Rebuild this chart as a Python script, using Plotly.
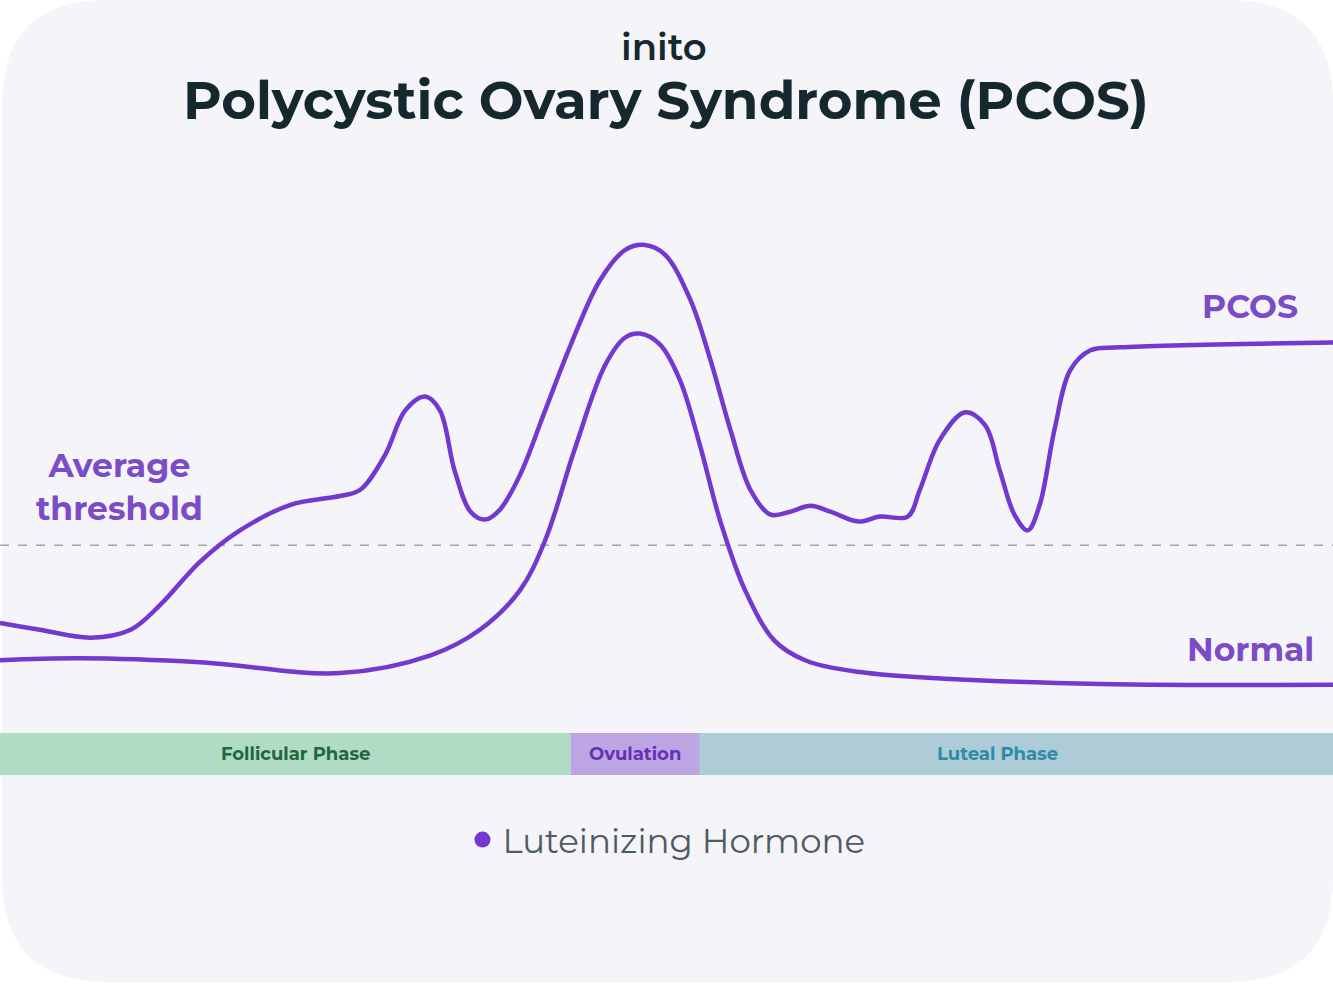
import plotly.graph_objects as go

# ---------------- data ----------------
# x: position in cycle (0-100), y: LH level (arbitrary units, 0-100 scale)
pcos_x = [0, 3.0, 6.8, 9.8, 12.0, 15.0, 18.0, 21.8, 25.5, 27.0, 28.9, 30.4, 31.9, 33.0,
          34.1, 35.3, 36.4, 37.5, 39.0, 40.9, 42.8, 45.0, 46.9, 48.4, 49.9, 51.8, 53.3,
          54.8, 56.3, 57.8, 59.3, 60.8, 62.3, 64.4, 66.0, 68.1, 69.0, 70.5, 72.4, 73.9,
          75.0, 76.1, 77.1, 78.0, 79.1, 80.3, 81.8, 84.0, 100]
pcos_y = [36.7, 36.0, 35.2, 36.0, 38.5, 42.9, 46.1, 48.7, 49.6, 50.2, 53.8, 58.3, 59.7, 58.3,
          52.2, 48.0, 47.2, 48.2, 51.7, 58.3, 64.9, 71.5, 74.6, 75.1, 74.1, 69.5, 63.4,
          56.3, 50.2, 47.7, 48.0, 48.6, 48.0, 47.0, 47.5, 47.5, 50.2, 55.3, 58.1, 56.8,
          52.2, 47.7, 46.1, 48.7, 56.3, 62.4, 64.4, 64.7, 65.2]

normal_x = [0, 6.0, 15.0, 25.5, 32.3, 36.0, 39.0, 40.9, 43.1, 45.4, 46.9, 48.0, 49.5,
            51.0, 52.5, 54.0, 55.9, 58.1, 60.4, 64.5, 71.3, 82.5, 100]
normal_y = [32.9, 33.1, 32.7, 31.6, 33.4, 36.0, 40.0, 45.1, 54.3, 62.9, 65.7, 66.1, 65.0,
            61.4, 54.8, 47.2, 40.0, 34.9, 32.9, 31.7, 31.0, 30.5, 30.4]

threshold = 44.6

phase_names = ["Follicular Phase", "Ovulation", "Luteal Phase"]
phase_start = [0, 42.8, 52.5]
phase_end = [42.8, 52.5, 100]
phase_label_x = [22.2, 47.6, 74.8]
phase_fill = ["#b0dbc5", "#bda5e4", "#aecbd8"]
phase_text = ["#22663f", "#6431b5", "#2e8aa6"]

LINE = "#7338cf"
LABEL = "#7b4cc6"
DARK = "#15282d"
FONT = "Montserrat, DejaVu Sans"

W, H = 1333, 984

fig = go.Figure()

fig.add_trace(go.Scatter(x=pcos_x, y=pcos_y, mode="lines", name="PCOS",
                         line=dict(color=LINE, width=4.5, shape="spline", smoothing=1.0),
                         showlegend=False, hoverinfo="skip"))
fig.add_trace(go.Scatter(x=normal_x, y=normal_y, mode="lines", name="Normal",
                         line=dict(color=LINE, width=4.5, shape="spline", smoothing=1.0),
                         showlegend=False, hoverinfo="skip"))
fig.add_trace(go.Scatter(x=[None], y=[None], mode="markers", name="Luteinizing Hormone",
                         marker=dict(color=LINE, size=20), showlegend=True))

# card background with rounded corners (paper coords)
r = 105
def px(x):
    return x / W
def py(y):
    return 1 - y / H
x0, x1, y0, y1 = 2, 1333, 0, 982
path = (f"M {px(x0+r)},{py(y0)} L {px(x1-r)},{py(y0)} "
        f"Q {px(x1)},{py(y0)} {px(x1)},{py(y0+r)} "
        f"L {px(x1)},{py(y1-r)} Q {px(x1)},{py(y1)} {px(x1-r)},{py(y1)} "
        f"L {px(x0+r)},{py(y1)} Q {px(x0)},{py(y1)} {px(x0)},{py(y1-r)} "
        f"L {px(x0)},{py(y0+r)} Q {px(x0)},{py(y0)} {px(x0+r)},{py(y0)} Z")
shapes = [dict(type="path", xref="paper", yref="paper", path=path,
               fillcolor="#f4f4f9", line=dict(width=0), layer="below")]

# phase band
band_top, band_bot = 1 - 733 / H, 1 - 775 / H
annotations = []
for name, s, e, lx, fc, tc in zip(phase_names, phase_start, phase_end, phase_label_x,
                                  phase_fill, phase_text):
    shapes.append(dict(type="rect", xref="x", yref="paper", x0=s, x1=e,
                       y0=band_bot, y1=band_top, fillcolor=fc, line=dict(width=0),
                       layer="below"))
    annotations.append(dict(x=lx, y=(band_top + band_bot) / 2, xref="x", yref="paper",
                            xanchor="center", yanchor="middle",
                            text=f"<b>{name}</b>", showarrow=False,
                            font=dict(family=FONT, size=18, color=tc)))

# threshold line
shapes.append(dict(type="line", xref="paper", yref="y", x0=0, x1=1, y0=threshold, y1=threshold,
                   line=dict(color="#a3a3a8", width=1.5, dash="dash"), layer="below"))

def ann(x, y, text, size, color, family=FONT, weight="normal"):
    return dict(x=x / W, y=1 - y / H, xref="paper", yref="paper", text=text,
                showarrow=False, xanchor="center", yanchor="middle",
                font=dict(family=family, size=size, color=color, weight=weight))

annotations += [
    ann(664, 47, "inito", 37, DARK, weight=600),
    ann(666, 100, "<b>Polycystic Ovary Syndrome (PCOS)</b>", 53, DARK),
    ann(1250, 306, "<b>PCOS</b>", 33, LABEL),
    ann(1250, 649, "<b>Normal</b>", 33, LABEL),
    ann(120, 486, "<b>Average<br>threshold</b>", 33, LABEL),
]

fig.update_layout(
    width=W, height=H,
    margin=dict(l=0, r=0, t=0, b=0),
    paper_bgcolor="white", plot_bgcolor="rgba(0,0,0,0)",
    xaxis=dict(range=[0, 100], visible=False, fixedrange=True),
    yaxis=dict(range=[0, 100], visible=False, fixedrange=True),
    shapes=shapes, annotations=annotations,
    legend=dict(x=0.5, y=1 - 840 / H, xanchor="center", yanchor="middle",
                orientation="h", bgcolor="rgba(0,0,0,0)",
                font=dict(family=FONT, size=34, color="#4f5b5e")),
)

fig.write_html("out.html", config={"displayModeBar": False},
               post_script="document.body.style.margin='0';")
